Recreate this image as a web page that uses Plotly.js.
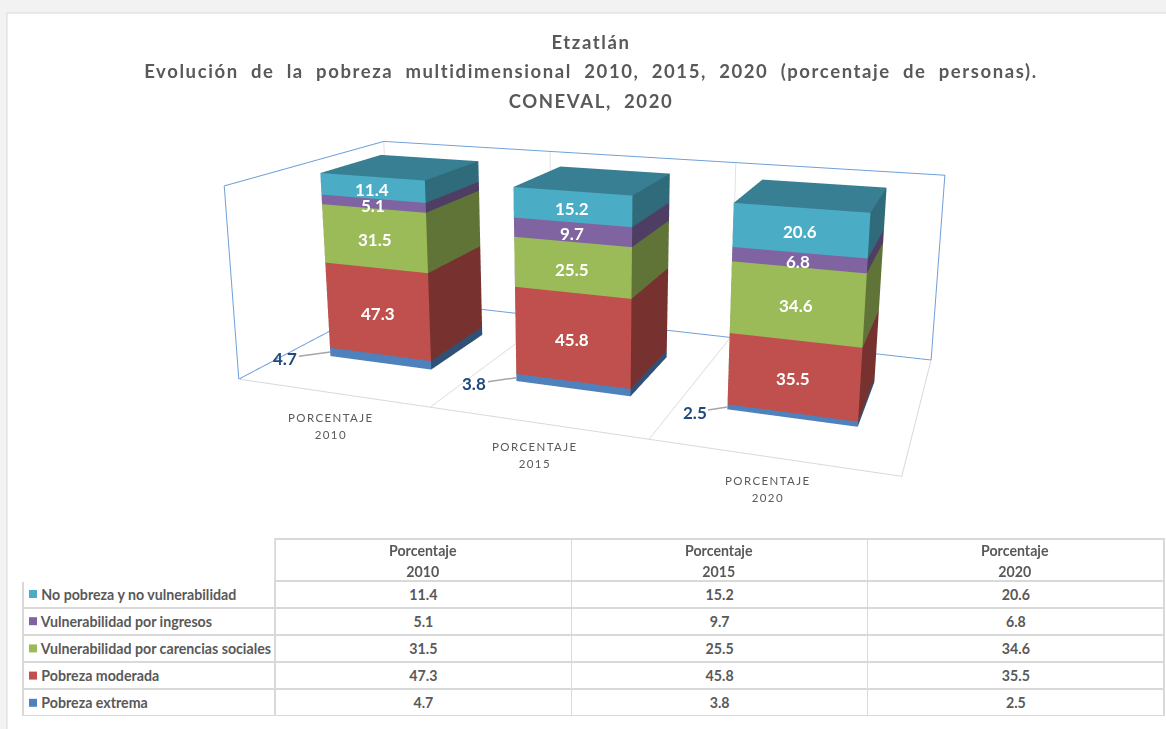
<!DOCTYPE html>
<html><head><meta charset="utf-8"><script src="https://cdn.plot.ly/plotly-3.0.1.min.js"></script>
<style>html,body{margin:0;padding:0;background:#fff;overflow:hidden;width:1166px;height:729px}
#c{position:absolute;left:0}
.gtitle{letter-spacing:1.6px}
text[data-unformatted*="PORCENTAJE"]{letter-spacing:1.4px}
</style></head>
<body><div id="c"></div><script>
const years=['2010','2015','2020'];
const categories=['PORCENTAJE<br>2010','PORCENTAJE<br>2015','PORCENTAJE<br>2020'];
const extrema=[4.7,3.8,2.5], moderada=[47.3,45.8,35.5], carencias=[31.5,25.5,34.6], ingresos=[5.1,9.7,6.8], noPobreza=[11.4,15.2,20.6];
const names=['Pobreza extrema','Pobreza moderada','Vulnerabilidad por carencias sociales','Vulnerabilidad por ingresos','No pobreza y no vulnerabilidad'];
const values=[extrema,moderada,carencias,ingresos,noPobreza];
const colors=['#4f81bd','#c0504d','#9bbb59','#8064a2','#4bacc6'];

// camera and box proportions
const ex=1.9616,ey=-5.3581,ez=1.5664,yaw=1.9277,pit=-0.2401,ax=3.2784,ay=1.5327,H=961.4,px=586.57,py=244.64,bw=0.1857,bd=0.402,yc=0.5068;
const T=py-H/2, pageTop=Math.min(T,0), Hg=Math.max(T+H,729)-pageTop, Wmin=2*Math.min(px,1166-px);
const yP=y=>1-(y-pageTop)/Hg, xP=x=>x/1166;
const cdiv=document.getElementById('c');cdiv.style.top=pageTop+'px';cdiv.style.width='1166px';cdiv.style.height=Hg+'px';
const zMax=100;
const dark=(h,k)=>{const n=parseInt(h.slice(1),16);return 'rgb('+[(n>>16)&255,(n>>8)&255,n&255].map(v=>Math.round(v*k)).join(',')+')';};
const traces=[];
const y0=yc-bd/2,y1=yc+bd/2;
years.forEach((yr,i)=>{let b=0;names.forEach((nm,s)=>{const v=values[s][i],x0=i+.5-bw*1.5,x1=i+.5+bw*1.5;
 const fc=colors[s],side=dark(colors[s],.62),tp=dark(colors[s],.74);
 traces.push({type:'mesh3d',x:[x0,x1,x1,x0,x0,x1,x1,x0],y:[y0,y0,y1,y1,y0,y0,y1,y1],z:[b,b,b,b,b+v,b+v,b+v,b+v],
 i:[0,0,4,4,0,0,1,1,2,2,3,3],j:[1,2,5,6,1,5,2,6,3,7,0,4],k:[2,3,6,7,5,4,6,5,7,6,4,7],
 facecolor:[tp,tp,tp,tp,fc,fc,side,side,side,side,side,side],flatshading:true,lighting:{ambient:1,diffuse:0,specular:0,fresnel:0,roughness:1},showscale:false,hoverinfo:'skip',name:nm});
 b+=v;});});
const line=(x,y,z,c,w)=>({type:'scatter3d',mode:'lines',x,y,z,line:{color:c,width:w},hoverinfo:'skip',showlegend:false});
const blue='#6f9fd8',grey='#d9d9d9';
traces.push(line([0,0,3,3],[0,1,1,1],[zMax,zMax,zMax,0],blue,2));
traces.push(line([0,0],[0,0],[0,zMax],blue,2));
traces.push(line([0,0,3],[0,1,1],[0,0,0],blue,2));
traces.push(line([0,3,3],[0,0,1],[0,0,0],grey,2));
[1,2].forEach(k=>{traces.push(line([k,k,k],[0,1,1],[0,0,zMax],grey,1.5));});
traces.push(line([0,0],[1,1],[0,zMax],grey,1.5));
const sa=[];
const lbl='Lato,"Liberation Sans",sans-serif';
const leadX=[-45,-42,-33], leadY=[6,6,5];
years.forEach((yr,i)=>{let b=0;values.forEach((ser,s)=>{const v=ser[i];
 if(s===0){sa.push({x:i+.5-bw*1.5,y:y0,z:v/2,text:v.toFixed(1),showarrow:true,arrowhead:0,arrowwidth:1.5,arrowcolor:'#a6a6a6',ax:leadX[i],ay:leadY[i],font:{family:lbl,size:17,color:'#1f497d',weight:700}});}
 else sa.push({x:i+.5,y:y0,z:b+v/2,text:v.toFixed(1),showarrow:false,yshift:-1.5,font:{family:lbl,size:17,color:'#fff',weight:700}});
 b+=v;});});
const catShift=[[0,-33],[-1,-32],[-3,-32]];
categories.forEach((t,i)=>sa.push({x:i+.5,y:0,z:0,text:'<span style="font-size:11.5px">'+t+'</span>',showarrow:false,xshift:catShift[i][0],yshift:catShift[i][1],xanchor:'center',yanchor:'middle',font:{family:lbl,size:13,color:'#595959'}}));

const tf=lbl, tcol='#595959', tsz=14.2;
traces.push({type:'table',domain:{x:[xP(23),xP(1164)],y:[yP(717),yP(539)]},columnwidth:[252,296,296,296],
 header:{values:[[''],[''],[''],['']],height:42,align:'center',fill:{color:'#fff'},line:{color:['#fff','#d9d9d9','#d9d9d9','#d9d9d9'],width:1.5},font:{family:tf,size:tsz,color:tcol,weight:700}},
 cells:{values:[names.slice().reverse().map(n=>'\u00A0\u00A0\u00A0'+n.replace(/ /g,'\u00A0')),...years.map((y,i)=>values.slice().reverse().map(s=>s[i].toFixed(1)))],height:27,align:['left','center','center','center'],fill:{color:'#fff'},line:{color:'#d9d9d9',width:1.5},font:{family:tf,size:tsz,color:tcol,weight:700}}});
const shapes=[{type:'rect',xref:'paper',yref:'paper',x0:0,x1:1,y0:yP(729),y1:yP(-5),fillcolor:'#f2f2f2',line:{width:0},layer:'below'},
 {type:'rect',xref:'paper',yref:'paper',x0:xP(7),x1:1.01,y0:yP(735),y1:yP(13),fillcolor:'#fff',line:{color:'#d9d9d9',width:1},layer:'below'}];
colors.slice().reverse().forEach((c,k)=>{const yy=594+k*27.2;shapes.push({type:'rect',xref:'paper',yref:'paper',x0:xP(29),x1:xP(37),y0:yP(yy+4),y1:yP(yy-4),fillcolor:c,line:{width:0}});});
const hdrX=[423,719,1015];
const annotations=years.map((y,i)=>({xref:'paper',yref:'paper',x:xP(hdrX[i]),y:yP(560.5),xanchor:'center',yanchor:'middle',text:'<span style="font-size:'+tsz+'px">Porcentaje<br>'+y+'</span>',showarrow:false,align:'center',font:{family:tf,size:16,color:tcol,weight:700}}));
const ttl='<span style="font-size:18.5px">';
Plotly.newPlot('c',traces,{width:1166,height:Hg,paper_bgcolor:'#fff',margin:{l:0,r:0,t:0,b:0},showlegend:false,shapes,annotations,
 title:{text:[ 'Etzatlán','Evolución  de  la  pobreza  multidimensional  2010,  2015,  2020  (porcentaje  de  personas).','CONEVAL,  2020'].map(t=>ttl+t+'</span>').join('<br>'),x:591/1166,xanchor:'center',y:yP(49),yanchor:'top',yref:'paper',font:{family:lbl,size:22.6,color:'#595959',weight:700}},
 scene:{domain:{x:[xP(px-Wmin/2),xP(px+Wmin/2)],y:[yP(T+H),yP(T)]},bgcolor:'rgba(0,0,0,0)',aspectmode:'manual',aspectratio:{x:ax,y:ay,z:1},
  camera:{eye:{x:ex,y:ey,z:ez},center:{x:ex+Math.cos(pit)*Math.cos(yaw)*5,y:ey+Math.cos(pit)*Math.sin(yaw)*5,z:ez+Math.sin(pit)*5},up:{x:0,y:0,z:1},projection:{type:'perspective'}},
  xaxis:{range:[-0.003,3.003],visible:false},yaxis:{range:[-0.001,1.001],visible:false},zaxis:{range:[-0.1,100.1],visible:false},annotations:sa}},{displayModeBar:false});
</script></body></html>
